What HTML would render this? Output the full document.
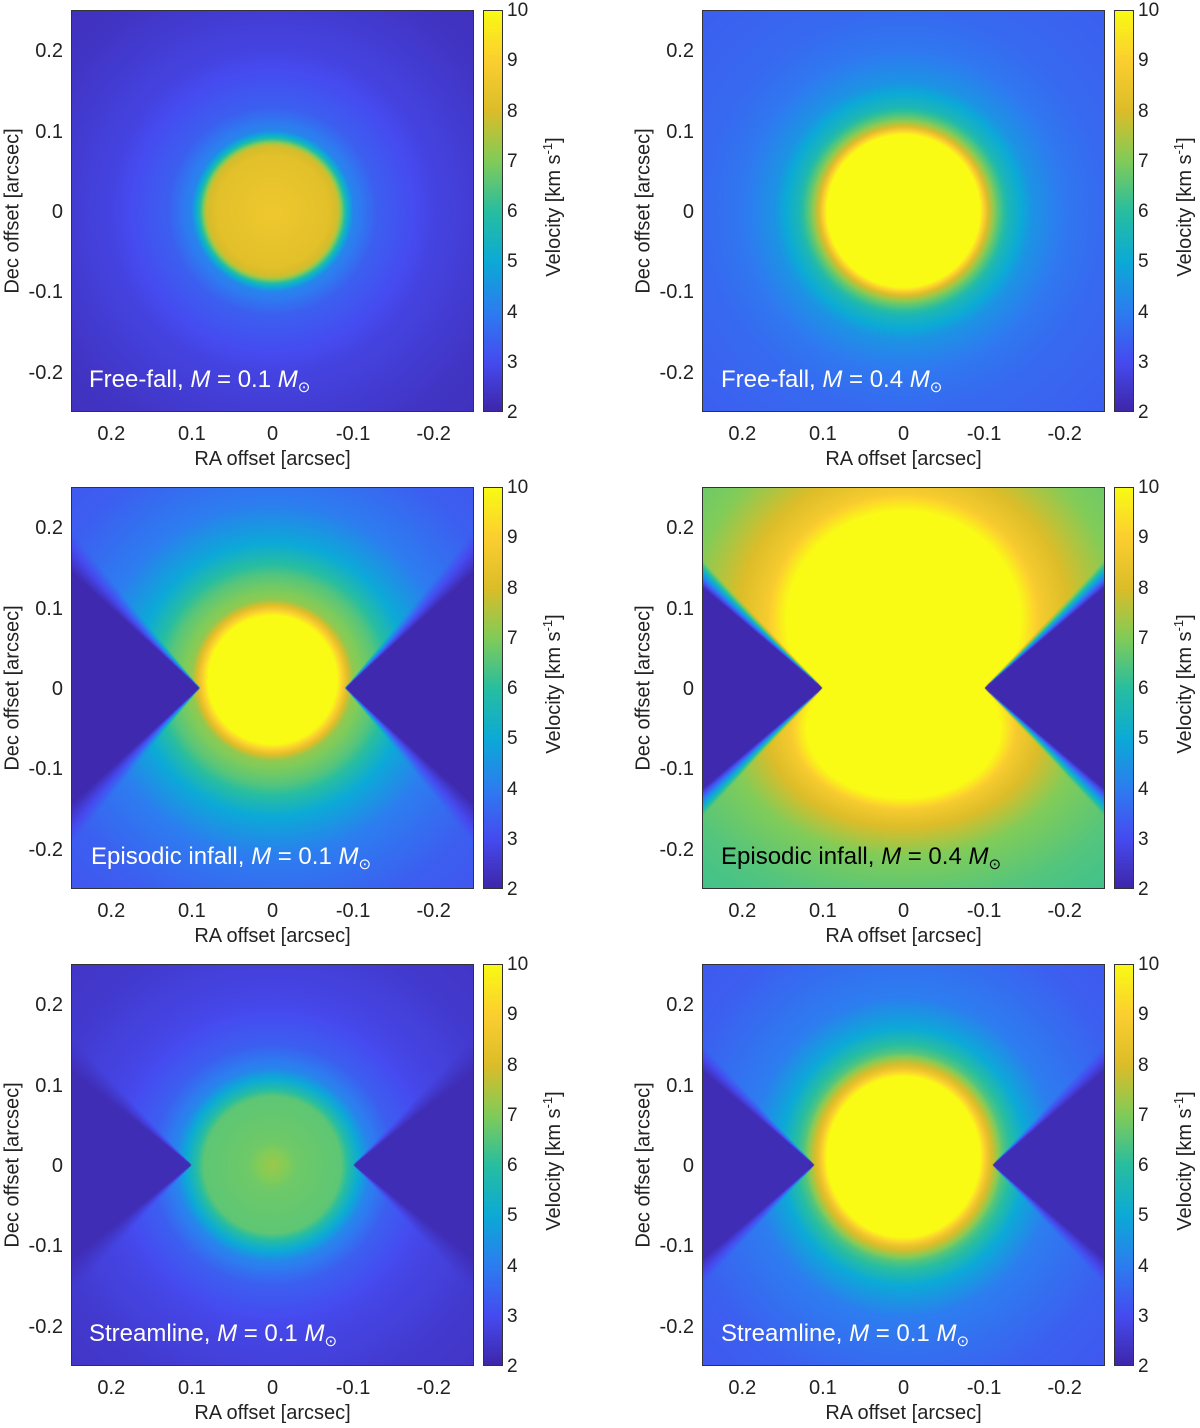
<!DOCTYPE html>
<html><head><meta charset="utf-8">
<style>
body{margin:0;background:#fff;width:1200px;height:1428px;position:relative;overflow:hidden;font-family:"Liberation Sans",Arial,sans-serif;color:#222}
.abs{position:absolute}
canvas{position:absolute}
.tk{position:absolute;font-size:20px;line-height:20px;white-space:nowrap}
.lab{position:absolute;font-size:24px;line-height:24px;white-space:nowrap;color:#fff}
.lab sub{font-size:15px;vertical-align:-5px}
.rot{position:absolute;font-size:20px;white-space:nowrap;transform:translate(-50%,-50%) rotate(-90deg)}
.box{position:absolute;border:1px solid #333;box-sizing:border-box}
</style></head><body>
<script>
// ---- data ----
const panelTitles=["Free-fall","Free-fall","Episodic infall","Episodic infall","Streamline","Streamline"];
const panelMass=["0.1","0.4","0.1","0.4","0.1","0.1"];
const xTicks=[0.2,0.1,0,-0.1,-0.2];
const yTicks=[0.2,0.1,0,-0.1,-0.2];
const cbTicks=[2,3,4,5,6,7,8,9,10];
// radial profiles (radius arcsec, velocity km/s)
const profR1=[0,0.07,0.082,0.092,0.1,0.13,0.2,0.3,0.4];
const profV1=[8.6,8.2,7.8,5.5,4.2,3.4,2.8,2.4,2.2];
const profR2=[0,0.095,0.105,0.115,0.13,0.16,0.2,0.25,0.4];
const profV2=[11,10,8,6.8,5.6,4.5,3.9,3.6,3.3];
const profR3=[0,0.08,0.09,0.1,0.13,0.17,0.22,0.3,0.45];
const profV3=[11,10,8.5,7.2,6.5,5,4,3.4,3];
const profR4=[0,0.12,0.14,0.17,0.22,0.3,0.45];
const profV4=[11,10,8.8,8,7,6.5,6];
const profR5=[0,0.03,0.085,0.1,0.12,0.15,0.2,0.3,0.45];
const profV5=[7.3,6.8,6.6,5.5,4.2,3.4,2.9,2.5,2.3];
const profR6=[0,0.1,0.11,0.13,0.16,0.2,0.3,0.45];
const profV6=[11,10,8.5,6.5,5,4,3.4,3.1];
// cores: [cx,cy,ax,ay]
const cores=[[[0,0,1,1]],[[0,0,1,1]],[[0,0.01,1,1]],[[0,0.085,0.145,0.135],[0,-0.05,0.12,0.087]],[[0,0,1,1]],[[0,0.01,0.095,0.1]]];
const coreScale=[1,1,1,0.12,1,0.1];
// cones: [apex x, half-angle deg, value, blend rad]
const cones=[null,null,[0.09,42,2.1,0.15],[0.1,40,2.1,0.12],[0.1,38,2.2,0.15],[0.11,40,2.2,0.12]];
</script>
<script>
const profs=[[profR1,profV1],[profR2,profV2],[profR3,profV3],[profR4,profV4],[profR5,profV5],[profR6,profV6]];
const parula=[[0,62,38,168],[0.125,70,75,240],[0.25,45,125,240],[0.375,12,170,215],[0.5,40,190,160],[0.625,129,204,89],[0.75,220,189,41],[0.875,252,207,48],[1,249,251,21]];
function cmap(v){let t=Math.max(0,Math.min(1,(v-2)/8));for(let i=1;i<parula.length;i++){if(t<=parula[i][0]){const a=parula[i-1],b=parula[i],f=(t-a[0])/(b[0]-a[0]);return [a[1]+f*(b[1]-a[1]),a[2]+f*(b[2]-a[2]),a[3]+f*(b[3]-a[3])];}}return [249,251,21];}
function interp(R,V,r){if(r<=R[0])return V[0];for(let i=1;i<R.length;i++){if(r<=R[i]){const f=(r-R[i-1])/(R[i]-R[i-1]);return V[i-1]+f*(V[i]-V[i-1]);}}return V[V.length-1];}
function val(p,x,y){let r=1e9;for(const c of cores[p]){const d=Math.hypot((x-c[0])/c[2],(y-c[1])/c[3]);if(d<r)r=d;}r*=coreScale[p];let v=interp(profs[p][0],profs[p][1],r);const cn=cones[p];if(cn){const ax=Math.abs(x)-cn[0];if(ax>0){const ang=Math.atan2(Math.abs(y),ax),h=cn[1]*Math.PI/180;if(ang<h)v=cn[2];else if(ang<h+cn[3]){const t=(ang-h)/cn[3];v=cn[2]+(v-cn[2])*t;}}}return Math.max(2,Math.min(10,v));}
const colX=[71,702],rowY=[10,487,964],W=403,H=402;
const xs=x=>W/2-x*W/0.5, ys=y=>H/2-y*H/0.5;
function add(tag,cls,l,t,txt){const e=document.createElement(tag);if(cls)e.className=cls;e.style.left=l+'px';e.style.top=t+'px';if(txt!==undefined)e.innerHTML=txt;document.body.appendChild(e);return e;}
for(let p=0;p<6;p++){
 const L=colX[p%2],T=rowY[Math.floor(p/2)];
 const cv=document.createElement('canvas');cv.width=W;cv.height=H;cv.style.left=L+'px';cv.style.top=T+'px';
 
 
 document.body.appendChild(cv);
 const ctx=cv.getContext('2d'),img=ctx.createImageData(W,H);
 for(let j=0;j<H;j++)for(let i=0;i<W;i++){const x=(W/2-i-0.5)*0.5/W,y=(H/2-j-0.5)*0.5/H;const c=cmap(val(p,x,y)),k=(j*W+i)*4;img.data[k]=c[0];img.data[k+1]=c[1];img.data[k+2]=c[2];img.data[k+3]=255;}
 ctx.putImageData(img,0,0);
 const bx=add('div','box',L,T);bx.style.width=W+'px';bx.style.height=H+'px';
 
 
 xTicks.forEach(v=>{const e=add('div','tk',L+xs(v),T+H+12,String(v));e.style.transform='translateX(-50%)';
  
  });
 yTicks.forEach(v=>{const e=add('div','tk',L-8,T+ys(v)-9,String(v));e.style.transform='translateX(-100%)';
  
  });
 const xl=add('div','tk',L+W/2,T+H+37,'RA offset [arcsec]');xl.style.transform='translateX(-50%)';
 
 
 const yl=add('div','rot',L-58,T+H/2,'Dec offset [arcsec]');
 
 
 const cb=document.createElement('canvas');cb.width=19;cb.height=H;cb.style.left=(L+412)+'px';cb.style.top=T+'px';
 
 
 document.body.appendChild(cb);
 const c2=cb.getContext('2d');for(let j=0;j<H;j++){const c=cmap(10-8*j/H);c2.fillStyle=`rgb(${c[0]|0},${c[1]|0},${c[2]|0})`;c2.fillRect(0,j,19,1);}
 const cbb=add('div','box',L+412,T);cbb.style.width='20px';cbb.style.height=H+'px';
 
 
 cbTicks.forEach(v=>{const e=add('div','tk',L+436,T+H-(v-2)*H/8-9,String(v));e.style.fontSize='19px';
  
  });
 const cl=add('div','rot',L+482,T+H/2-4,'Velocity [km s<sup style="font-size:13px">-1</sup>]');
 
 
 const lb=add('div','lab',L+(p%2?19:18)+(p==2?2:0),T+358,panelTitles[p]+', <i>M</i> = '+panelMass[p]+' <i>M</i><sub>⊙</sub>');
 if(p==3)lb.style.color='#000';
 
 
}
</script>
</body></html>
